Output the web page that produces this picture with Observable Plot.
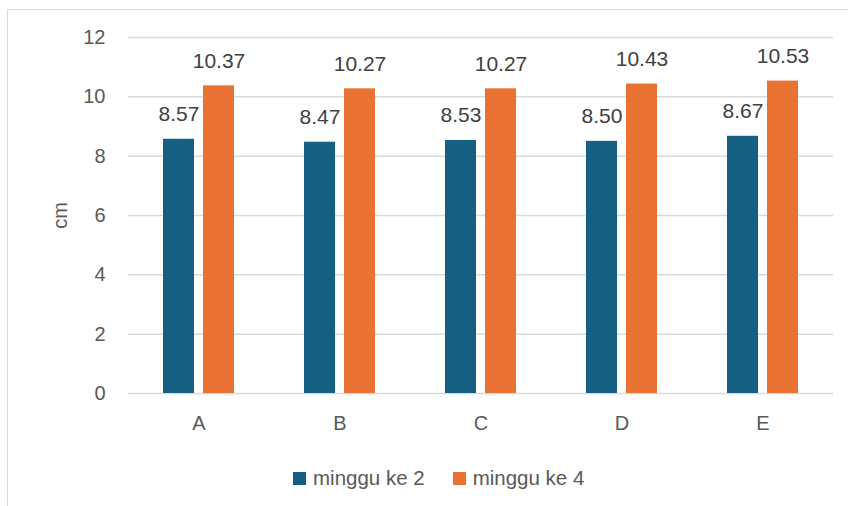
<!DOCTYPE html>
<html>
<head>
<meta charset="utf-8">
<script src="https://cdn.jsdelivr.net/npm/d3@7"></script>
<script src="https://cdn.jsdelivr.net/npm/@observablehq/plot@0.6"></script>
<style>
  html, body { margin: 0; padding: 0; background: #fff; }
  #wrap { position: relative; width: 848px; height: 506px; overflow: hidden; font-family: "Liberation Sans", Arial, sans-serif; }
  #frame { position: absolute; left: 7px; top: 9px; width: 860px; height: 520px; border: 1.5px solid #d9d9d9; box-sizing: border-box; }
  #chart { position: absolute; left: 0; top: 0; }
  #legend { position: absolute; left: 293px; top: 466px; display: flex; align-items: center; }
  #legend .item { display: flex; align-items: center; margin-right: 28px; font-size: 20.5px; color: #595959; line-height: 24px; }
  #legend .sw { width: 13px; height: 13px; margin-right: 7px; }
</style>
</head>
<body>
<div id="wrap">
  <div id="frame"></div>
  <div id="chart"></div>
  <div id="legend"></div>
</div>
<script>
const categories = ["A", "B", "C", "D", "E"];
const seriesNames = ["minggu ke 2", "minggu ke 4"];
const week2 = [8.57, 8.47, 8.53, 8.50, 8.67];
const week4 = [10.37, 10.27, 10.27, 10.43, 10.53];
const seriesColors = ["#156082", "#E97132"];
const yTicks = [0, 2, 4, 6, 8, 10, 12];
const yLabel = "cm";

const data = [];
categories.forEach((c, i) => {
  data.push({cat: c, series: seriesNames[0], value: week2[i]});
  data.push({cat: c, series: seriesNames[1], value: week4[i]});
});

const chart = Plot.plot({
  width: 848,
  height: 440,
  marginLeft: 128,
  marginRight: 15,
  marginTop: 37,
  marginBottom: 47,
  style: {fontFamily: "'Liberation Sans', Arial, sans-serif", color: "#595959", background: "transparent"},
  fx: {domain: categories, padding: 0},
  x: {domain: seriesNames, paddingInner: 0.225, paddingOuter: 0.875, axis: null},
  y: {domain: [0, 12], ticks: yTicks},
  color: {domain: seriesNames, range: seriesColors},
  marks: [
    Plot.gridY(yTicks, {stroke: "#d9d9d9", strokeOpacity: 1, strokeWidth: 1.5}),
    Plot.axisY(yTicks, {anchor: "left", tickSize: 0, tickPadding: 23, fontSize: 20, label: yLabel, labelAnchor: "center", labelArrow: "none", labelOffset: 76, fill: "#595959"}),
    Plot.axisFx({anchor: "bottom", tickSize: 0, tickPadding: 22, fontSize: 20, label: null, fill: "#595959"}),
    Plot.barY(data, {fx: "cat", x: "series", y: "value", fill: "series"}),
    Plot.text(data, {fx: "cat", x: "series", y: "value", text: d => d.value.toFixed(2), dy: -25, fontSize: 21, fill: "#404040"})
  ]
});
document.getElementById("chart").appendChild(chart);

const legend = document.getElementById("legend");
seriesNames.forEach((s, i) => {
  const item = document.createElement("div");
  item.className = "item";
  const sw = document.createElement("div");
  sw.className = "sw";
  sw.style.background = seriesColors[i];
  item.appendChild(sw);
  item.appendChild(document.createTextNode(s));
  legend.appendChild(item);
});
</script>
</body>
</html>
